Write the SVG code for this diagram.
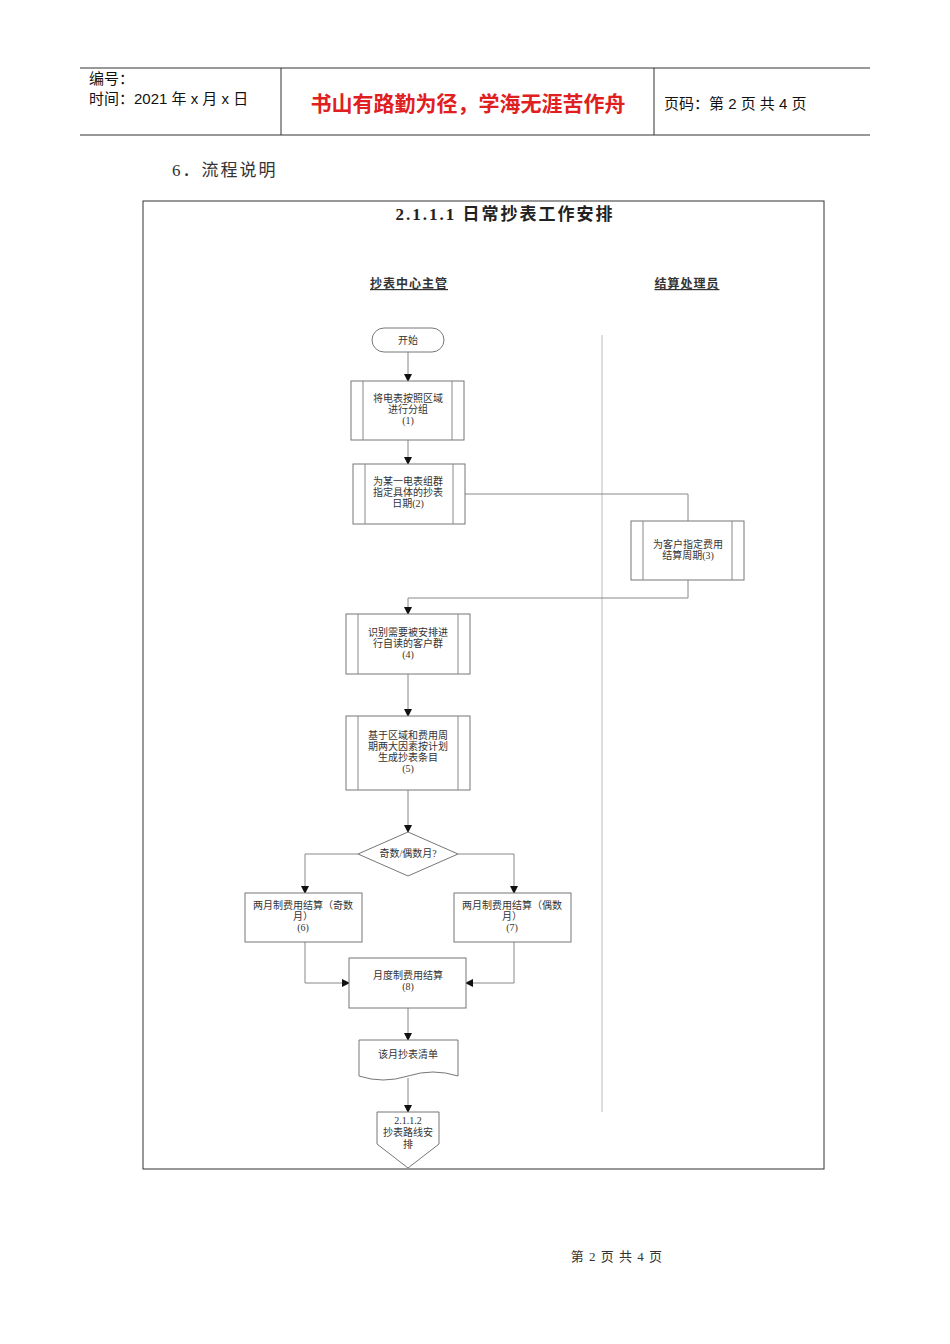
<svg xmlns="http://www.w3.org/2000/svg" width="950" height="1344" viewBox="0 0 950 1344">
<style>
text{font-family:"Liberation Serif","Noto Sans CJK SC",serif;fill:#333}
.s{font-size:10px;text-anchor:middle}
.n{fill:#fff;stroke:#777;stroke-width:1}
.c{fill:none;stroke:#888;stroke-width:1}
</style>
<defs><marker id="a" markerWidth="8" markerHeight="8" refX="7" refY="4" orient="auto" markerUnits="userSpaceOnUse"><path d="M0,0L8,4L0,8z" fill="#111"/></marker></defs>
<rect width="950" height="1344" fill="#fff"/>
<g id="header">
<line x1="80" y1="68" x2="870" y2="68" stroke="#333"/>
<line x1="80" y1="135" x2="870" y2="135" stroke="#333"/>
<line x1="281" y1="68" x2="281" y2="135" stroke="#333"/>
<line x1="654" y1="68" x2="654" y2="135" stroke="#333"/>
<text x="89" y="84" font-size="15" style="font-family:'Liberation Sans','Noto Sans CJK SC',sans-serif;fill:#111">编号：</text>
<text x="89" y="104" font-size="15" style="font-family:'Liberation Sans','Noto Sans CJK SC',sans-serif;fill:#111">时间：2021 年 x 月 x 日</text>
<text x="468" y="111" font-size="21" text-anchor="middle" font-weight="bold" style="font-family:'Noto Sans CJK SC',sans-serif;fill:#e02020">书山有路勤为径，学海无涯苦作舟</text>
<text x="664" y="109" font-size="15" style="font-family:'Liberation Sans','Noto Sans CJK SC',sans-serif;fill:#111">页码：第 2 页  共 4 页</text>
</g>
<text x="172" y="176" font-size="17" letter-spacing="2">6．流程说明</text>
<rect x="143" y="201" width="681" height="968" fill="none" stroke="#333"/>
<text x="505" y="220" font-size="17" text-anchor="middle" font-weight="bold" letter-spacing="2" style="fill:#222">2.1.1.1  日常抄表工作安排</text>
<text x="409" y="288" font-size="12" text-anchor="middle" font-weight="bold" text-decoration="underline" letter-spacing="1">抄表中心主管</text>
<text x="687" y="288" font-size="12" text-anchor="middle" font-weight="bold" text-decoration="underline" letter-spacing="1">结算处理员</text>
<line x1="602" y1="335" x2="602" y2="1112" stroke="#bbb"/>
<g id="connectors" class="c">
<path d="M408,352V381" marker-end="url(#a)"/>
<path d="M408,440V464" marker-end="url(#a)"/>
<path d="M465,494H688V521"/>
<path d="M688,580V598H408V614" marker-end="url(#a)"/>
<path d="M408,674V716" marker-end="url(#a)"/>
<path d="M408,790V832" marker-end="url(#a)"/>
<path d="M358,854H305V893" marker-end="url(#a)"/>
<path d="M458,854H514V893" marker-end="url(#a)"/>
<path d="M305,942V983H349" marker-end="url(#a)"/>
<path d="M514,942V983H466" marker-end="url(#a)"/>
<path d="M408,1008V1040" marker-end="url(#a)"/>
<path d="M408,1078V1112" marker-end="url(#a)"/>
</g>
<g id="start"><rect class="n" x="372" y="328" width="72" height="24" rx="12"/><text class="s" x="408" y="344">开始</text></g>
<g id="n1"><rect class="n" x="351" y="381" width="113" height="59"/><path class="c" d="M363,381V440M452,381V440"/><text class="s" x="408" y="402">将电表按照区域</text><text class="s" x="408" y="413">进行分组</text><text class="s" x="408" y="424">(1)</text></g>
<g id="n2"><rect class="n" x="353" y="464" width="112" height="60"/><path class="c" d="M365,464V524M453,464V524"/><text class="s" x="408" y="485">为某一电表组群</text><text class="s" x="408" y="496">指定具体的抄表</text><text class="s" x="408" y="507">日期(2)</text></g>
<g id="n3"><rect class="n" x="631" y="521" width="113" height="59"/><path class="c" d="M643,521V580M732,521V580"/><text class="s" x="688" y="548">为客户指定费用</text><text class="s" x="688" y="559">结算周期(3)</text></g>
<g id="n4"><rect class="n" x="346" y="614" width="124" height="60"/><path class="c" d="M358,614V674M458,614V674"/><text class="s" x="408" y="636">识别需要被安排进</text><text class="s" x="408" y="647">行自读的客户群</text><text class="s" x="408" y="658">(4)</text></g>
<g id="n5"><rect class="n" x="346" y="716" width="124" height="74"/><path class="c" d="M358,716V790M458,716V790"/><text class="s" x="408" y="739">基于区域和费用周</text><text class="s" x="408" y="750">期两大因素按计划</text><text class="s" x="408" y="761">生成抄表条目</text><text class="s" x="408" y="772">(5)</text></g>
<g id="d"><path class="n" d="M408,832L458,854L408,876L358,854z"/><text class="s" x="408" y="857">奇数/偶数月?</text></g>
<g id="n6"><rect class="n" x="245" y="893" width="117" height="49"/><text class="s" x="303" y="909">两月制费用结算（奇数</text><text class="s" x="303" y="920">月）</text><text class="s" x="303" y="931">(6)</text></g>
<g id="n7"><rect class="n" x="454" y="893" width="117" height="49"/><text class="s" x="512" y="909">两月制费用结算（偶数</text><text class="s" x="512" y="920">月）</text><text class="s" x="512" y="931">(7)</text></g>
<g id="n8"><rect class="n" x="349" y="958" width="117" height="50"/><text class="s" x="408" y="979">月度制费用结算</text><text class="s" x="408" y="990">(8)</text></g>
<g id="doc"><path class="n" d="M359,1040H458V1076Q433,1068 408,1076T359,1076z"/><text class="s" x="408" y="1058">该月抄表清单</text></g>
<g id="off"><path class="n" d="M377,1112H439V1144L408,1168L377,1144z"/><text class="s" x="408" y="1124">2.1.1.2</text><text class="s" x="408" y="1136">抄表路线安</text><text class="s" x="408" y="1148">排</text></g>
<text x="617" y="1261" font-size="13" text-anchor="middle" letter-spacing="1">第 2 页 共 4 页</text>
</svg>
